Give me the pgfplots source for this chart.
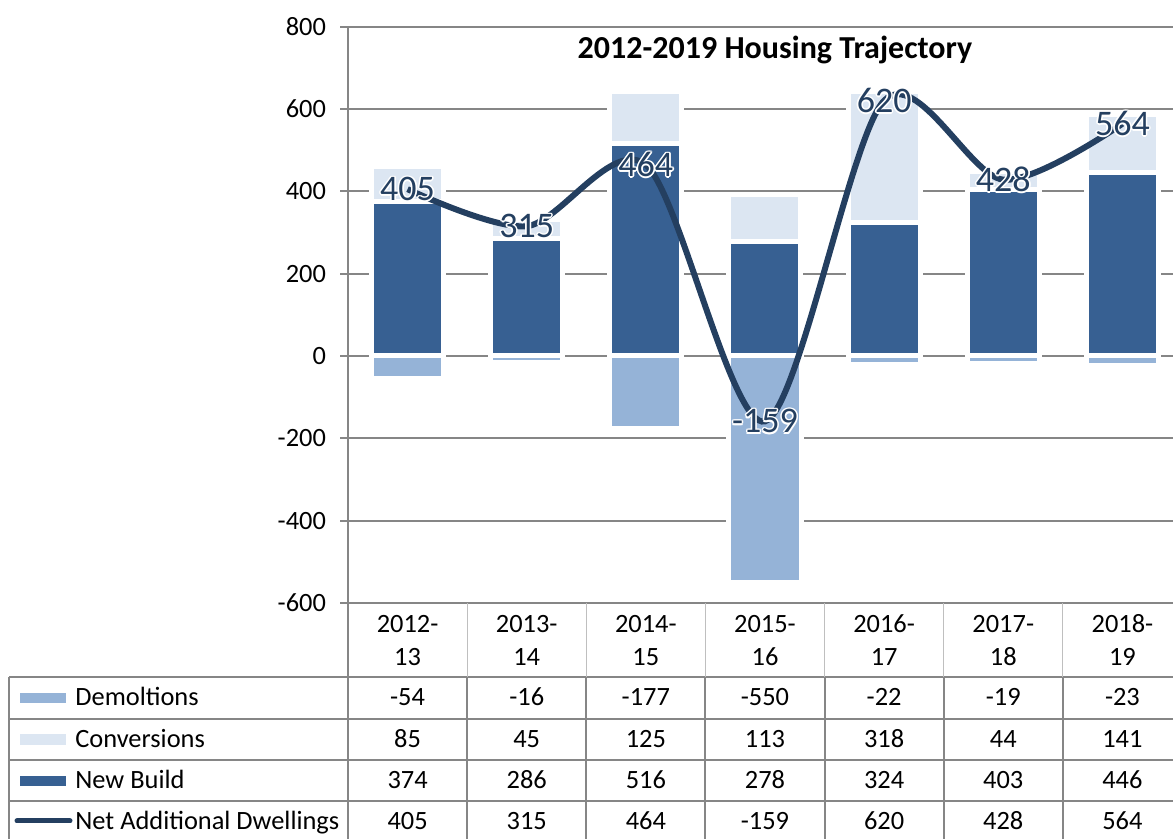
\documentclass[border=0pt]{standalone}
\usepackage{pgfplots}
\pgfplotsset{compat=1.18}
\usepackage{fontspec}
\setmainfont{Carlito}
\definecolor{nb}{HTML}{376092}
\definecolor{cv}{HTML}{DCE6F2}
\definecolor{dm}{HTML}{95B3D7}
\definecolor{nl}{HTML}{243F60}
\definecolor{gr}{HTML}{868686}
\definecolor{lgr}{HTML}{BFBFBF}
\newcommand\halo[1]{{\def\h##1##2{\rlap{\kern##1\raisebox{##2}{\color{white}#1}}}%
\h{0.8pt}{0pt}\h{-0.8pt}{0pt}\h{0pt}{0.8pt}\h{0pt}{-0.8pt}%
\h{0.55pt}{0.55pt}\h{-0.55pt}{0.55pt}\h{0.55pt}{-0.55pt}\h{-0.55pt}{-0.55pt}#1}}
\newcommand\tfont{\fontsize{13.2}{15}\selectfont}
\begin{document}
\begin{tikzpicture}[x=0.5pt,y=0.5pt]
\useasboundingbox (0,0) rectangle (1173,839);
\clip (0,0) rectangle (1173,839);
\pgfplotsset{base/.style={at={(174pt,118pt)}, anchor=south west, scale only axis,
  width=417pt, height=288.25pt, xmin=-0.5, xmax=6.5, ymin=-600, ymax=800}}
\begin{axis}[base,
  ybar stacked, bar width=36pt,
  xtick=\empty, ytick={-600,-400,...,800},
  yticklabels={-600,-400,-200,0,200,400,600,800},
  ymajorgrids, grid style={gr, line width=1pt},
  axis lines=left, axis line style={gr, line width=1pt, -},
  tick align=outside, major tick length=4pt, tick style={gr, line width=1pt},
  yticklabel style={font=\tfont, text=black, xshift=-3.5pt},
]
\addplot[fill=nb, draw=white, line width=2.5pt] coordinates {(0,374) (1,286) (2,516) (3,278) (4,324) (5,403) (6,446)};
\addplot[fill=cv, draw=white, line width=2.5pt] coordinates {(0,85) (1,45) (2,125) (3,113) (4,318) (5,44) (6,141)};
\end{axis}
\begin{axis}[base, hide axis]
\addplot[ybar, bar width=36pt, bar shift=0pt, fill=dm, draw=white, line width=2.5pt] coordinates {(0,-54) (1,-16) (2,-177) (3,-550) (4,-22) (5,-19) (6,-23)};
\addplot[nl, line width=3pt, smooth, tension=0.5, point meta=explicit symbolic,
  nodes near coords={\halo{\pgfplotspointmeta}}, nodes near coords align={center},
  every node near coord/.append style={font=\fontsize{18}{20}\selectfont, text=nl, inner sep=0pt}]
  coordinates {(0,405) [405] (1,315) [315] (2,464) [464] (3,-159) [-159] (4,620) [620] (5,428) [428] (6,564) [564]};
\end{axis}
\begin{scope}[shift={(0,839)}, yscale=-1]
\node[font=\bfseries\fontsize{16}{18}\selectfont] at (775,50) {2012-2019 Housing Trajectory};
% data table
\def\cw{119.14}
\draw[gr, line width=1pt] (348,603) -- (348,845);
\draw[gr, line width=1pt] (9,677) -- (9,845);
\foreach \y in {677,719,760,801} \draw[gr, line width=1pt] (9,\y) -- (1190,\y);
\foreach \i in {1,...,7} {
  \draw[lgr, line width=0.6pt] ({348+\i*\cw},603) -- ({348+\i*\cw},677);
  \draw[gr, line width=1pt] ({348+\i*\cw},677) -- ({348+\i*\cw},845);
}
\foreach \i/\a/\b/\d/\c/\n/\t in {0/2012-/13/-54/85/374/405, 1/2013-/14/-16/45/286/315, 2/2014-/15/-177/125/516/464, 3/2015-/16/-550/113/278/-159, 4/2016-/17/-22/318/324/620, 5/2017-/18/-19/44/403/428, 6/2018-/19/-23/141/446/564} {
  \begin{scope}[every node/.style={anchor=base, inner sep=0pt, font=\tfont}]
  \node at ({348+(\i+0.5)*\cw},633) {\a};
  \node at ({348+(\i+0.5)*\cw},666) {\b};
  \node at ({348+(\i+0.5)*\cw},706) {\d};
  \node at ({348+(\i+0.5)*\cw},747.5) {\c};
  \node at ({348+(\i+0.5)*\cw},789) {\n};
  \node at ({348+(\i+0.5)*\cw},830) {\t};
  \end{scope}
}
\begin{scope}[every node/.style={anchor=base west, inner sep=0pt, font=\tfont}]
\fill[dm] (20,693) rectangle (66,703);
\node at (75,706) {Demoltions};
\fill[cv] (20,734) rectangle (66,745);
\node at (75,747.5) {Conversions};
\fill[nb] (20,776) rectangle (66,786);
\node at (75,789) {New Build};
\draw[nl, line width=2.5pt, line cap=round] (17,821) -- (70,821);
\node at (75,830) {Net Additional Dwellings};
\end{scope}
\end{scope}
\end{tikzpicture}
\end{document}
